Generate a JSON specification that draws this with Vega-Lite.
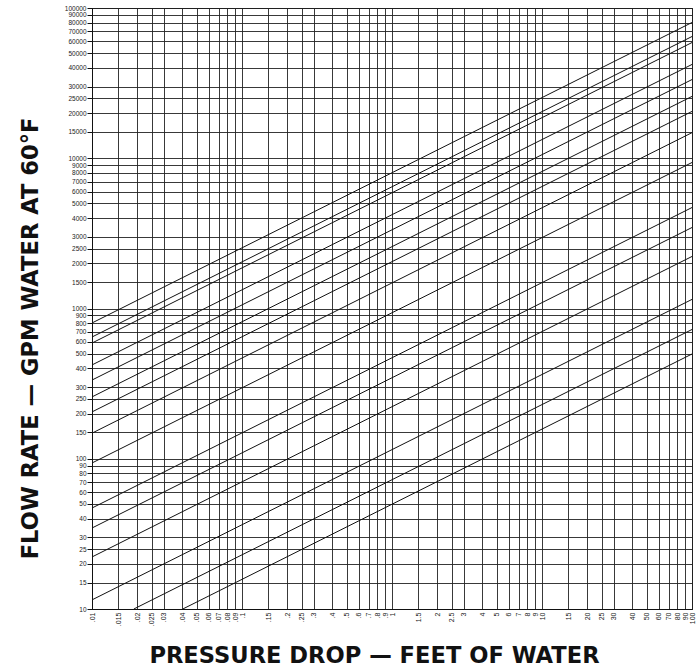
{
  "$schema": "https://vega.github.io/schema/vega-lite/v6.json",
  "autosize": "none",
  "padding": {"left": 92, "top": 8, "right": 4, "bottom": 63},
  "width": 600,
  "height": 601,
  "background": "white",
  "config": {
    "view": {"stroke": "#111", "strokeWidth": 1},
    "axis": {
      "gridColor": "#222",
      "gridWidth": 0.9,
      "gridOpacity": 1,
      "domainColor": "#111",
      "tickColor": "#111",
      "labelColor": "#222",
      "labelFont": "Liberation Sans",
      "titleFont": "DejaVu Sans",
      "titleFontWeight": "bold",
      "titleFontSize": 22.6,
      "titleColor": "#111"
    }
  },
  "data": {
    "values": [
      {"line": "A", "dp": 0.01, "q": 801}, {"line": "A", "dp": 100, "q": 80100},
      {"line": "B", "dp": 0.01, "q": 646}, {"line": "B", "dp": 100, "q": 64600},
      {"line": "C", "dp": 0.01, "q": 589}, {"line": "C", "dp": 100, "q": 58900},
      {"line": "D", "dp": 0.01, "q": 421}, {"line": "D", "dp": 100, "q": 42100},
      {"line": "E", "dp": 0.01, "q": 334}, {"line": "E", "dp": 100, "q": 33400},
      {"line": "F", "dp": 0.01, "q": 258}, {"line": "F", "dp": 100, "q": 25800},
      {"line": "G", "dp": 0.01, "q": 205}, {"line": "G", "dp": 100, "q": 20500},
      {"line": "H", "dp": 0.01, "q": 148}, {"line": "H", "dp": 100, "q": 14800},
      {"line": "I", "dp": 0.01, "q": 93.7}, {"line": "I", "dp": 100, "q": 9370},
      {"line": "J", "dp": 0.01, "q": 47}, {"line": "J", "dp": 100, "q": 4700},
      {"line": "K", "dp": 0.01, "q": 34.6}, {"line": "K", "dp": 100, "q": 3460},
      {"line": "L", "dp": 0.01, "q": 22.2}, {"line": "L", "dp": 100, "q": 2220},
      {"line": "M", "dp": 0.01, "q": 11.5}, {"line": "M", "dp": 100, "q": 1150},
      {"line": "N", "dp": 0.019, "q": 10}, {"line": "N", "dp": 100, "q": 725},
      {"line": "O", "dp": 0.0403, "q": 10}, {"line": "O", "dp": 100, "q": 498}
    ]
  },
  "mark": {"type": "line", "color": "#111", "strokeWidth": 1, "clip": true},
  "encoding": {
    "detail": {"field": "line"},
    "x": {
      "field": "dp",
      "type": "quantitative",
      "scale": {"type": "log", "domain": [0.01, 100], "nice": false},
      "axis": {
        "title": "PRESSURE DROP — FEET OF WATER",
        "titleX": 282,
        "titleY": 46,
        "titleBaseline": "middle",
        "values": [0.01,0.015,0.02,0.025,0.03,0.04,0.05,0.06,0.07,0.08,0.09,0.1,0.15,0.2,0.25,0.3,0.4,0.5,0.6,0.7,0.8,0.9,1,1.5,2,2.5,3,4,5,6,7,8,9,10,15,20,25,30,40,50,60,70,80,90,100],
        "labelExpr": "datum.value < 1 ? slice('' + datum.value, 1) : '' + datum.value",
        "labelAngle": -90,
        "labelFontSize": 7,
        "labelOverlap": false,
        "labelPadding": 3,
        "labelFlush": false,
        "ticks": false,
        "grid": true
      }
    },
    "y": {
      "field": "q",
      "type": "quantitative",
      "scale": {"type": "log", "domain": [10, 100000], "nice": false},
      "axis": {
        "title": "FLOW RATE — GPM WATER AT 60°F",
        "titleX": -62,
        "titleY": 330,
        "titleAngle": -90,
        "titleBaseline": "middle",
        "values": [10,15,20,25,30,40,50,60,70,80,90,100,150,200,250,300,400,500,600,700,800,900,1000,1500,2000,2500,3000,4000,5000,6000,7000,8000,9000,10000,15000,20000,25000,30000,40000,50000,60000,70000,80000,90000,100000],
        "format": "d",
        "labelFontSize": 6.5,
        "labelOverlap": false,
        "labelFlush": false,
        "tickSize": 5,
        "labelPadding": 1,
        "grid": true
      }
    }
  }
}
